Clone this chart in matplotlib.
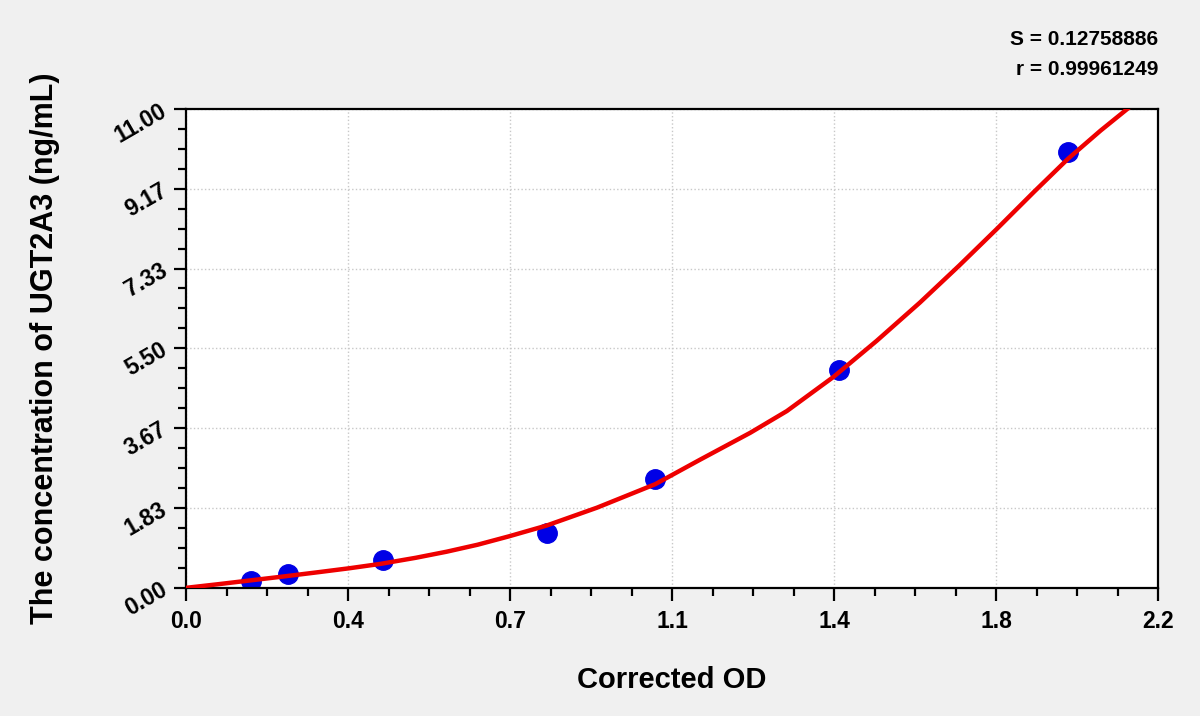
import matplotlib
matplotlib.use("Agg")
import matplotlib.pyplot as plt
from matplotlib.ticker import FixedLocator, AutoMinorLocator

plt.rcParams['font.family'] = ['Liberation Sans', 'DejaVu Sans']

# standard points (corrected OD vs concentration)
od = [0.147, 0.231, 0.446, 0.817, 1.062, 1.478, 1.996]
conc = [0.16, 0.31, 0.63, 1.25, 2.50, 5.00, 10.00]

# fitted curve
curve_x = [0.0, 0.07, 0.145, 0.22, 0.30, 0.37, 0.44, 0.52, 0.59, 0.66, 0.73, 0.816, 0.93,
           1.062, 1.163, 1.277, 1.36, 1.465, 1.563, 1.661, 1.75, 1.836, 1.92, 1.996, 2.07, 2.137]
curve_y = [0.0, 0.08, 0.17, 0.26, 0.36, 0.45, 0.55, 0.69, 0.83, 0.99, 1.18, 1.43, 1.84,
           2.38, 2.94, 3.56, 4.06, 4.84, 5.67, 6.55, 7.40, 8.25, 9.10, 9.85, 10.50, 11.05]

xticks = [0, 2.2 / 6, 2 * 2.2 / 6, 1.1, 4 * 2.2 / 6, 5 * 2.2 / 6, 2.2]
xlabels = ["0.0", "0.4", "0.7", "1.1", "1.4", "1.8", "2.2"]
yticks = [0, 11 / 6, 2 * 11 / 6, 5.5, 4 * 11 / 6, 5 * 11 / 6, 11]
ylabels = ["0.00", "1.83", "3.67", "5.50", "7.33", "9.17", "11.00"]

fig = plt.figure(figsize=(12, 7.16), dpi=100, facecolor="#f0f0f0")
ax = fig.add_axes([0.155, 0.179, 0.81, 0.669])
ax.set_facecolor("white")

ax.plot(curve_x, curve_y, color="#ee0000", lw=3.2, zorder=3,
        solid_capstyle="round", solid_joinstyle="round")
ax.plot(od, conc, "o", color="#0000e6", ms=14, zorder=2)

ax.set_xlim(0, 2.2)
ax.set_ylim(0, 11)
ax.xaxis.set_major_locator(FixedLocator(xticks))
ax.yaxis.set_major_locator(FixedLocator(yticks))
ax.set_xticklabels(xlabels, fontsize=16.5, fontweight="bold")
ax.set_yticklabels(ylabels, fontsize=16.5, fontweight="bold", rotation=30,
                   rotation_mode="anchor", ha="right", va="center")
ax.xaxis.set_minor_locator(AutoMinorLocator(4))
ax.yaxis.set_minor_locator(AutoMinorLocator(4))
ax.tick_params(which="major", length=9, width=1.6, direction="out")
ax.tick_params(axis="x", which="major", pad=7)
ax.tick_params(axis="y", which="major", pad=6)
ax.tick_params(which="minor", length=6, width=1.6, direction="out")
ax.grid(True, which="major", color="#c8c8c8", ls=":", lw=1)
for s in ax.spines.values():
    s.set_linewidth(1.6)

ax.set_xlabel("Corrected OD", fontsize=21, fontweight="bold", va="center")
ax.xaxis.set_label_coords(0.5, -0.192)
ax.set_ylabel("The concentration of UGT2A3 (ng/mL)", fontsize=22, fontweight="bold", va="center")
ax.yaxis.set_label_coords(-0.145, 0.5)

fig.text(0.965, 0.945, "S = 0.12758886", ha="right", va="center", fontsize=15, fontweight="bold")
fig.text(0.965, 0.903, "r = 0.99961249", ha="right", va="center", fontsize=15, fontweight="bold")

fig.savefig("out.png", dpi=100, facecolor=fig.get_facecolor())
